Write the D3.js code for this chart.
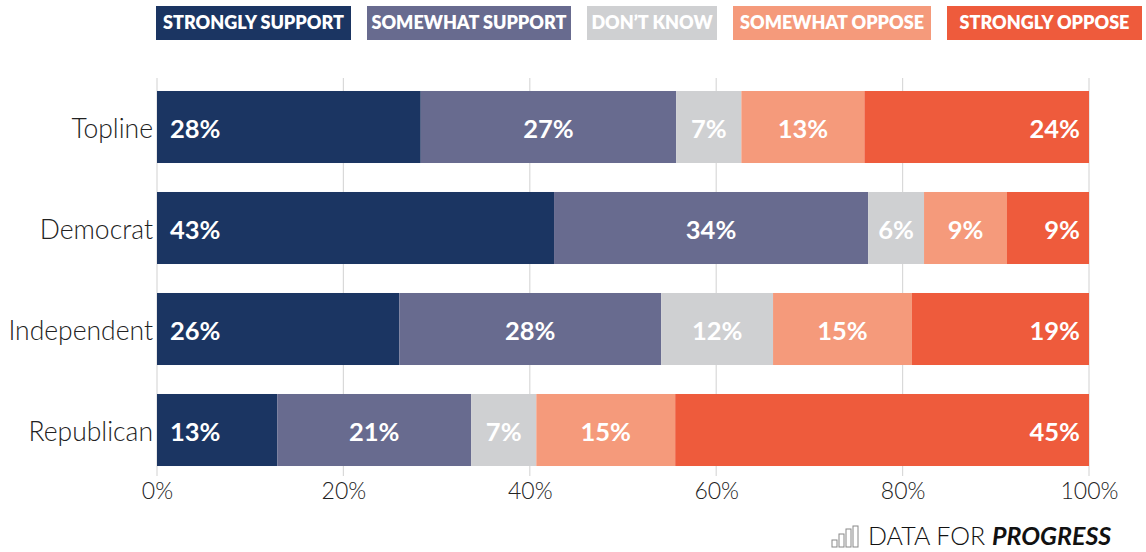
<!DOCTYPE html>
<html>
<head>
<meta charset="utf-8">
<script src="https://cdn.jsdelivr.net/npm/d3@7"></script>
<style>
  html, body { margin: 0; padding: 0; background: #fff; }
  svg { display: block; font-family: Lato, "Open Sans", sans-serif; }
</style>
</head>
<body>
<svg id="chart" width="1146" height="552"></svg>
<script>
const categories = ["Topline", "Democrat", "Independent", "Republican"];
const seriesNames = ["STRONGLY SUPPORT", "SOMEWHAT SUPPORT", "DON'T KNOW", "SOMEWHAT OPPOSE", "STRONGLY OPPOSE"];
const seriesColors = ["#1b3562", "#686b8f", "#cfd0d2", "#f59a7b", "#ee5b3c"];
const stronglySupport = [28.3, 42.6, 26.0, 12.9];
const somewhatSupport = [27.4, 33.7, 28.1, 20.8];
const dontKnow = [7.0, 6.0, 12.0, 7.0];
const somewhatOppose = [13.2, 8.9, 14.9, 14.9];
const stronglyOppose = [24.1, 8.8, 19.0, 44.4];
const labelStrongSupport = ["28%", "43%", "26%", "13%"];
const labelSomewhatSupport = ["27%", "34%", "28%", "21%"];
const labelDontKnow = ["7%", "6%", "12%", "7%"];
const labelSomewhatOppose = ["13%", "9%", "15%", "15%"];
const labelStronglyOppose = ["24%", "9%", "19%", "45%"];
const xTicks = [0, 20, 40, 60, 80, 100];

const series = [stronglySupport, somewhatSupport, dontKnow, somewhatOppose, stronglyOppose];
const labels = [labelStrongSupport, labelSomewhatSupport, labelDontKnow, labelSomewhatOppose, labelStronglyOppose];

const svg = d3.select("#chart");
const x = d3.scaleLinear().domain([0, 100]).range([157, 1089]);
const y = d3.scaleBand().domain(categories).range([76.5, 480.5]).paddingInner(0.287).paddingOuter(0.1435);

// gridlines
svg.append("g").selectAll("line").data(xTicks).join("line")
  .attr("x1", d => x(d)).attr("x2", d => x(d))
  .attr("y1", 78).attr("y2", 476)
  .attr("stroke", "#d9d9d9").attr("stroke-width", 1.2);

// x axis labels
const xAxis = d3.axisBottom(x).tickValues(xTicks).tickFormat(d => d + "%").tickSize(0).tickPadding(0);
const xg = svg.append("g").attr("transform", "translate(0,482)").call(xAxis);
xg.select(".domain").remove();
xg.selectAll("text").attr("font-size", 23).attr("font-weight", 300).attr("fill", "#222")
  .attr("font-family", "Lato, sans-serif").attr("dy", "0.75em");

// y axis labels
const yAxis = d3.axisLeft(y).tickSize(0).tickPadding(4);
const yg = svg.append("g").attr("transform", "translate(157,0)").call(yAxis);
yg.select(".domain").remove();
yg.selectAll("text").attr("font-size", 26.5).attr("font-weight", 300).attr("fill", "#222")
  .attr("font-family", "Lato, sans-serif").attr("dy", "0.42em");

// stacked bars
categories.forEach((cat, i) => {
  let cum = 0;
  series.forEach((s, k) => {
    const v = s[i];
    const x0 = x(cum), x1 = x(cum + v);
    svg.append("rect")
      .attr("x", x0).attr("y", y(cat))
      .attr("width", x1 - x0).attr("height", y.bandwidth())
      .attr("fill", seriesColors[k]);
    let tx, anchor;
    if (k === 0) { tx = x0 + 13; anchor = "start"; }
    else if (k === series.length - 1) { tx = x1 - 9; anchor = "end"; }
    else { tx = (x0 + x1) / 2; anchor = "middle"; }
    svg.append("text")
      .attr("x", tx).attr("y", y(cat) + y.bandwidth() / 2)
      .attr("dy", "0.42em")
      .attr("text-anchor", anchor)
      .attr("font-size", 25.5).attr("font-weight", 700)
      .attr("fill", "#fff")
      .text(labels[k][i]);
    cum += v;
  });
});

// legend
const legendBoxes = [[156, 351], [367, 571], [587, 717], [733, 931], [947, 1142]];
seriesNames.forEach((name, k) => {
  const [a, b] = legendBoxes[k];
  svg.append("rect").attr("x", a).attr("y", 6).attr("width", b - a).attr("height", 34)
    .attr("fill", seriesColors[k]);
  svg.append("text").attr("x", (a + b) / 2).attr("y", 23).attr("dy", "0.36em")
    .attr("text-anchor", "middle").attr("font-size", 18).attr("font-weight", 800)
    .attr("fill", "#fff").text(name.replace("'", "\u2019"));
});

// logo
const logo = svg.append("g").attr("transform", "translate(832,526)");
[[0, 14], [7, 8], [14, 3], [21, 0]].forEach(([dx, top]) => {
  logo.append("rect").attr("x", dx).attr("y", top).attr("width", 5).attr("height", 21 - top)
    .attr("fill", "none").attr("stroke", "#888").attr("stroke-width", 1);
});
const lt = svg.append("text").attr("x", 868).attr("y", 545).attr("font-size", 25).attr("fill", "#111");
lt.append("tspan").attr("font-weight", 300).text("DATA FOR ");
lt.append("tspan").attr("font-weight", 700).attr("font-style", "italic").text("PROGRESS");
</script>
</body>
</html>
